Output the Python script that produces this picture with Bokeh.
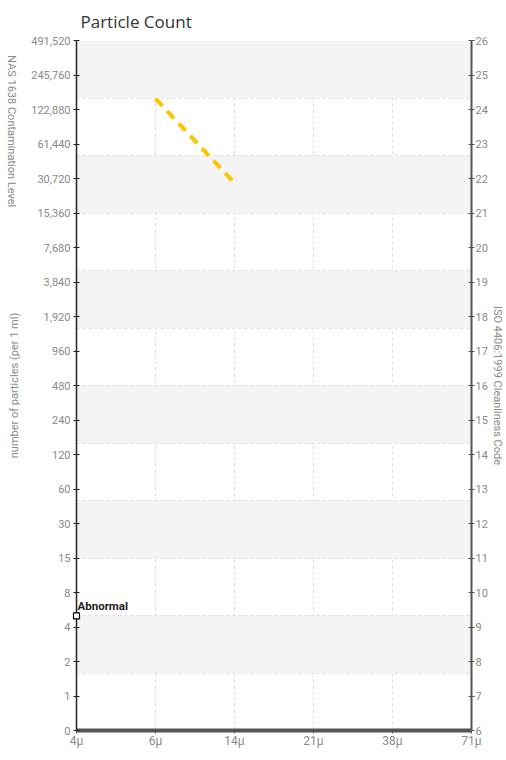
import math
from bokeh.plotting import figure
from bokeh.models import (Range1d, LinearAxis, FixedTicker, Label, ColumnDataSource)
from bokeh.embed import file_html
from bokeh.resources import INLINE

# ---- data ----
size_labels = ["4\u03bc", "6\u03bc", "14\u03bc", "21\u03bc", "38\u03bc", "71\u03bc"]
count_ticks = [0, 1, 2, 4, 8, 15, 30, 60, 120, 240, 480, 960, 1920, 3840, 7680,
               15360, 30720, 61440, 122880, 245760, 491520]
iso_codes = list(range(6, 27))
nas_bands = list(range(0, 13))          # 12 alternating NAS bands
nas_title_at = 11                       # band edge where the NAS title is centred

measured_sizes = ["6\u03bc", "14\u03bc"]
measured_counts = [153000, 28000]

abnormal_size = "4\u03bc"
abnormal_count = 5

# ---- helpers: map particle counts onto the tick index scale ----
def count_pos(c):
    if c <= 1:
        return float(c)
    logs = [math.log(t) for t in count_ticks[1:]]
    lc = math.log(c)
    for i in range(len(logs) - 1):
        if logs[i] <= lc <= logs[i + 1]:
            return 1 + i + (lc - logs[i]) / (logs[i + 1] - logs[i])
    return float(len(count_ticks) - 1)

xidx = {s: i for i, s in enumerate(size_labels)}

AX_FONT = "Roboto"
AX_SIZE = "11px"
GRAY = "#8a8a8a"

p = figure(width=506, height=756, output_backend="svg", toolbar_location=None,
           x_range=Range1d(0, len(size_labels) - 1), y_range=Range1d(0, len(count_ticks) - 1),
           min_border_left=76, min_border_right=34, min_border_top=40, min_border_bottom=26,
           outline_line_color=None, background_fill_color="white")
p.extra_y_ranges = {"iso": Range1d(iso_codes[0], iso_codes[-1]),
                    "nas": Range1d(nas_bands[0], nas_bands[-1])}

# title
p.title.text = "Particle Count"
p.title.text_font = "Open Sans"
p.title.text_font_size = "17px"
p.title.text_font_style = "normal"
p.title.text_color = "#333333"
p.title.offset = 4
p.title.standoff = 15

# grids
p.xgrid.ticker = FixedTicker(ticks=list(range(len(size_labels))))
p.xgrid.grid_line_color = "#dddddd"
p.xgrid.grid_line_dash = "3 3"
p.ygrid.y_range_name = "nas"
p.ygrid.ticker = FixedTicker(ticks=nas_bands)
p.ygrid.grid_line_color = "#dddddd"
p.ygrid.grid_line_dash = "3 3"
p.ygrid.band_fill_color = "#f4f4f4"
p.ygrid.band_fill_alpha = 1.0

# x axis
xa = p.xaxis[0]
xa.ticker = FixedTicker(ticks=list(range(len(size_labels))))
xa.major_label_overrides = {i: s for i, s in enumerate(size_labels)}
xa.axis_line_color = "#555555"
xa.axis_line_width = 4
xa.major_tick_line_color = "#555555"
xa.major_tick_in = 0
xa.major_tick_out = 3
xa.minor_tick_line_color = None
xa.major_label_text_font = AX_FONT
xa.major_label_text_font_size = "12px"
xa.major_label_text_color = GRAY
xa.major_label_standoff = 0

# left axis (counts)
ya = p.yaxis[0]
ya.ticker = FixedTicker(ticks=list(range(len(count_ticks))))
ya.major_label_overrides = {i: f"{v:,}" for i, v in enumerate(count_ticks)}
ya.axis_line_color = "#222222"
ya.axis_line_width = 1.5
ya.major_tick_line_color = "#222222"
ya.major_tick_in = 3
ya.major_tick_out = 3
ya.minor_tick_line_color = None
ya.major_label_text_font = AX_FONT
ya.major_label_text_font_size = AX_SIZE
ya.major_label_text_color = GRAY
ya.major_label_standoff = 3

# outer left axis: NAS title (as a tick label) + particle-count title
na = LinearAxis(y_range_name="nas", ticker=FixedTicker(ticks=[nas_title_at]))
na.major_label_overrides = {nas_title_at: "NAS 1638 Contamination Level"}
na.major_label_orientation = -math.pi / 2
na.axis_line_color = None
na.major_tick_line_color = None
na.minor_tick_line_color = None
na.major_tick_in = 0
na.major_tick_out = 0
na.major_label_standoff = 17
na.major_label_text_font = AX_FONT
na.major_label_text_font_size = "11px"
na.major_label_text_color = GRAY
na.axis_label = "number of particles (per 1 ml)"
na.axis_label_text_font = AX_FONT
na.axis_label_text_font_size = "11px"
na.axis_label_text_font_style = "normal"
na.axis_label_text_color = GRAY
na.axis_label_standoff = -25
p.add_layout(na, "left")

# right axis
ra = LinearAxis(y_range_name="iso", ticker=FixedTicker(ticks=iso_codes))
ra.axis_line_color = "#555555"
ra.axis_line_width = 2
ra.major_tick_line_color = "#555555"
ra.major_tick_in = 3
ra.major_tick_out = 3
ra.minor_tick_line_color = None
ra.major_label_text_font = AX_FONT
ra.major_label_text_font_size = AX_SIZE
ra.major_label_text_color = GRAY
ra.major_label_standoff = 1
ra.axis_label = "ISO 4406:1999 Cleanliness Code"
ra.axis_label_text_font = AX_FONT
ra.axis_label_text_font_size = "11px"
ra.axis_label_text_font_style = "normal"
ra.axis_label_text_color = GRAY
ra.axis_label_standoff = 0
p.add_layout(ra, "right")

# measured line
src = ColumnDataSource(dict(x=[xidx[s] for s in measured_sizes],
                            y=[count_pos(c) for c in measured_counts]))
p.line("x", "y", source=src, line_color="#ffc400", line_width=4, line_dash="10 7")

# abnormal marker
ab = ColumnDataSource(dict(x=[xidx[abnormal_size]], y=[count_pos(abnormal_count)]))
p.scatter("x", "y", source=ab, marker="square", size=6, fill_color="white",
          line_color="black", line_width=1.2, level="overlay")
p.add_layout(Label(x=xidx[abnormal_size], y=count_pos(abnormal_count), text="Abnormal",
                   x_offset=1, y_offset=3, text_font=AX_FONT, text_font_style="bold",
                   text_font_size="11.5px", text_color="#222222",
                   text_align="left", text_baseline="bottom"))

open("out.html", "w").write(file_html(p, INLINE))
